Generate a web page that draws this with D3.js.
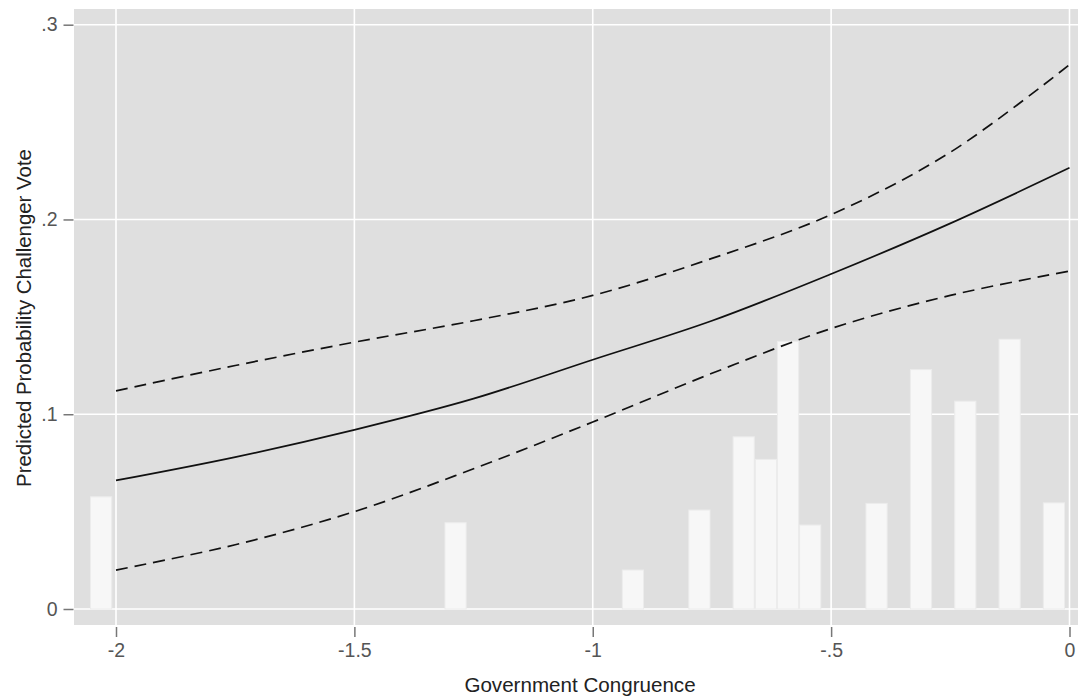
<!DOCTYPE html>
<html>
<head>
<meta charset="utf-8">
<script src="https://cdn.jsdelivr.net/npm/d3@7"></script>
<style>
  html, body { margin: 0; padding: 0; background: #ffffff; }
  svg { display: block; font-family: "Liberation Sans", Arial, sans-serif; }
</style>
</head>
<body>
<svg id="chart" width="1078" height="697"></svg>
<script>
// Predicted probability of a challenger vote across government congruence,
// with 95% confidence bounds and a histogram of observed congruence values.

const congruence = [-2, -1.75, -1.5, -1.25, -1, -0.75, -0.5, -0.25, 0];
const predicted  = [0.066, 0.078, 0.092, 0.108, 0.128, 0.148, 0.172, 0.198, 0.2265];
const upperBound = [0.112, 0.125, 0.137, 0.148, 0.161, 0.180, 0.2025, 0.2345, 0.2795];
const lowerBound = [0.020, 0.033, 0.050, 0.072, 0.096, 0.121, 0.144, 0.161, 0.1735];

// histogram bins: lower edge of each bin and its density height
const binWidth = 0.0465;
const binStart = [-2.0545, -1.311, -0.939, -0.7995, -0.7066, -0.6601, -0.6136, -0.5671,
                  -0.428, -0.3347, -0.2418, -0.1488, -0.0559];
const binHeight = [0.0576, 0.0443, 0.0200, 0.0508, 0.0884, 0.0768, 0.1374, 0.0431,
                   0.0542, 0.1229, 0.1067, 0.1385, 0.0545];

const xTicks = [-2, -1.5, -1, -0.5, 0];
const xTickLabels = ["-2", "-1.5", "-1", "-.5", "0"];
const yTicks = [0, 0.1, 0.2, 0.3];
const yTickLabels = ["0", ".1", ".2", ".3"];

const svg = d3.select("#chart");

const plot = { left: 74, right: 1078, top: 9, bottom: 625 };
const x = d3.scaleLinear().domain([-2, 0]).range([116, 1069.5]);
const y = d3.scaleLinear().domain([0, 0.3]).range([609, 24.7]);

// plot region background
svg.append("rect")
  .attr("x", plot.left).attr("y", plot.top)
  .attr("width", plot.right - plot.left).attr("height", plot.bottom - plot.top)
  .attr("fill", "#dfdfdf");

// grid
const grid = svg.append("g").attr("stroke", "#ffffff").attr("stroke-width", 1.6);
grid.selectAll("line.h").data(yTicks).join("line")
  .attr("class", "h")
  .attr("x1", plot.left).attr("x2", plot.right)
  .attr("y1", d => y(d)).attr("y2", d => y(d));
grid.selectAll("line.v").data(xTicks).join("line")
  .attr("class", "v")
  .attr("y1", plot.top).attr("y2", plot.bottom)
  .attr("x1", d => x(d)).attr("x2", d => x(d));

// histogram bars
const bins = binStart.map((s, i) => ({ s, h: binHeight[i] }));
svg.append("g").selectAll("rect").data(bins).join("rect")
  .attr("x", d => x(d.s) + 0.5)
  .attr("width", d => x(d.s + binWidth) - x(d.s) - 1)
  .attr("y", d => y(d.h))
  .attr("height", d => y(0) - y(d.h))
  .attr("fill", "#f7f7f7")
  .attr("stroke", "#ececec")
  .attr("stroke-width", 1);

// fitted curve and confidence bounds
const line = (vals) => d3.line()
  .x((d, i) => x(congruence[i]))
  .y(d => y(d))
  .curve(d3.curveCatmullRom.alpha(0.5))(vals);

svg.append("path").attr("d", line(upperBound))
  .attr("fill", "none").attr("stroke", "#111").attr("stroke-width", 1.7)
  .attr("stroke-dasharray", "12,7");
svg.append("path").attr("d", line(lowerBound))
  .attr("fill", "none").attr("stroke", "#111").attr("stroke-width", 1.7)
  .attr("stroke-dasharray", "12,7");
svg.append("path").attr("d", line(predicted))
  .attr("fill", "none").attr("stroke", "#111").attr("stroke-width", 1.7);

// y axis
const yAxis = d3.axisLeft(y).tickValues(yTicks)
  .tickFormat((d, i) => yTickLabels[i]).tickSize(10).tickPadding(6);
const gy = svg.append("g").attr("transform", `translate(${plot.left - 0.5},0)`).call(yAxis);
gy.select(".domain").remove();
gy.selectAll(".tick line").attr("stroke", "#777").attr("stroke-width", 1.5);
gy.selectAll(".tick text").attr("fill", "#555").attr("font-size", 19.5)
  .attr("font-family", "Liberation Sans, Arial, sans-serif");

// x axis
const xAxis = d3.axisBottom(x).tickValues(xTicks)
  .tickFormat((d, i) => xTickLabels[i]).tickSize(10).tickPadding(6);
const gx = svg.append("g").attr("transform", `translate(0,${plot.bottom + 2})`).call(xAxis);
gx.select(".domain").remove();
gx.selectAll(".tick line").attr("stroke", "#777").attr("stroke-width", 1.5);
gx.selectAll(".tick text").attr("fill", "#555").attr("font-size", 19.5)
  .attr("font-family", "Liberation Sans, Arial, sans-serif");

// axis titles
svg.append("text")
  .attr("x", 580).attr("y", 692)
  .attr("text-anchor", "middle")
  .attr("font-size", 20.6).attr("fill", "#222")
  .text("Government Congruence");

svg.append("text")
  .attr("transform", "translate(31,318) rotate(-90)")
  .attr("text-anchor", "middle")
  .attr("font-size", 20.4).attr("fill", "#222")
  .text("Predicted Probability Challenger Vote");
</script>
</body>
</html>
